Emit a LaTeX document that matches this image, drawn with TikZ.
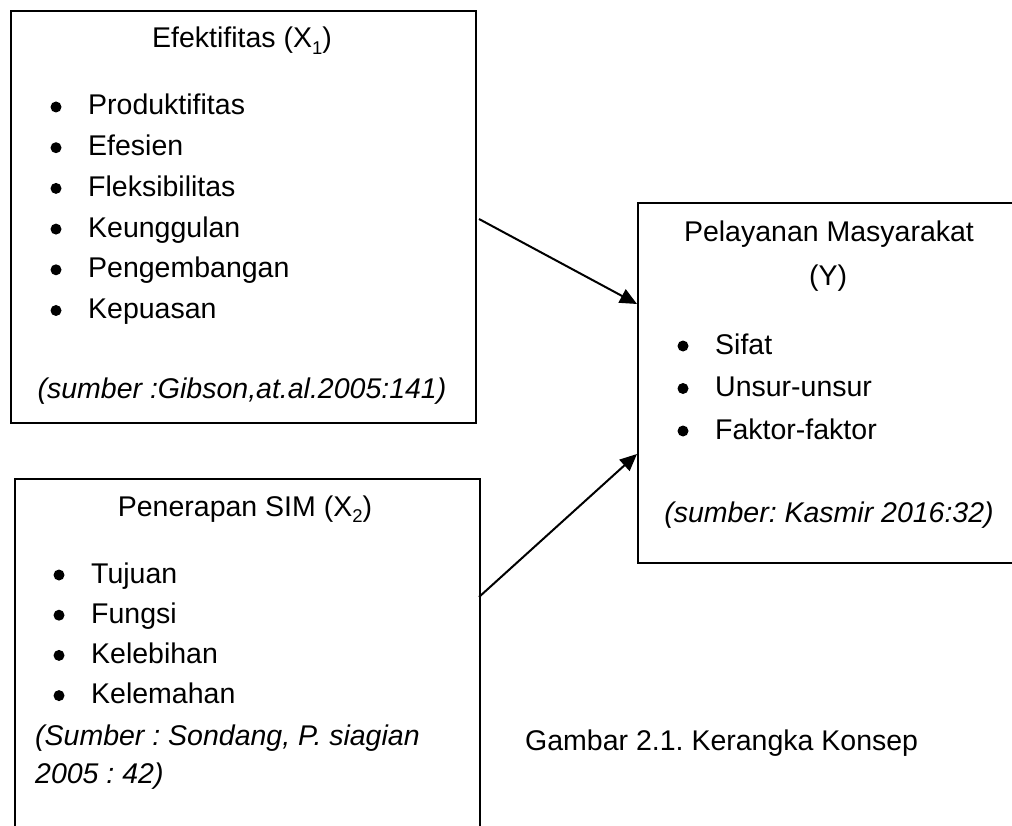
\documentclass[tikz,border=0pt]{standalone}
\usepackage{fontspec}
\setmainfont{Liberation Sans}
\usetikzlibrary{arrows.meta}
\frenchspacing
\newcommand{\subnum}[1]{\raisebox{-0.22em}{\fontsize{18.5}{18.5}\selectfont #1}}
\begin{document}
\begin{tikzpicture}[x=1pt,y=-1pt,
  box/.style={draw=black,line width=1.6pt,rectangle,inner sep=0pt,anchor=north west},
  txt/.style={inner sep=0pt,font=\fontsize{28.5}{34}\selectfont},
  itm/.style={txt,anchor=base west},
  ctr/.style={txt,anchor=base},
  dot/.style={circle,fill=black,inner sep=0pt,minimum size=11pt},
  src/.style={txt,font=\fontsize{28.5}{34}\selectfont\itshape},
  arr/.style={line width=2pt,-{Triangle[length=17pt,width=15pt]}}]
\useasboundingbox (0,0) rectangle (1012,826);
\clip (0,0) rectangle (1012,826);
\fill[white] (0,0) rectangle (1012,826);
% boxes
\node[box,minimum width=465pt,minimum height=412pt] (b1) at (10,10) {};
\node[box,minimum width=465pt,minimum height=420pt] (b2) at (14,478) {};
\node[box,minimum width=384pt,minimum height=360pt] (b3) at (637,202) {};
% box 1 texts
\node[ctr] (t1) at (242,48) {Efektifitas (X\subnum{1})};
\foreach \t [count=\i from 0] in {Produktifitas,Efesien,Fleksibilitas,Keunggulan,Pengembangan,Kepuasan}{
  \node[itm] (p\i) at (88,115+40.7*\i) {\t};
  \node[dot] (pb\i) at (56,107+40.7*\i) {};
}
\node[src,anchor=base] (s1) at (242,398) {(sumber :Gibson,at.al.2005:141)};
% box 2 texts
\node[ctr] (t2) at (245,516) {Penerapan SIM (X\subnum{2})};
\foreach \t [count=\i from 0] in {Tujuan,Fungsi,Kelebihan,Kelemahan}{
  \node[itm] (q\i) at (91,583+40.2*\i) {\t};
  \node[dot] (qb\i) at (59,575+40.2*\i) {};
}
\node[src,anchor=base west] (s2a) at (35,745) {(Sumber : Sondang, P. siagian};
\node[src,anchor=base west] (s2b) at (35,783) {2005 : 42)};
% box 3 texts
\node[ctr] (t3a) at (829,242) {Pelayanan Masyarakat};
\node[ctr] (t3b) at (828,286) {(Y)};
\foreach \t [count=\i from 0] in {Sifat,Unsur-unsur,Faktor-faktor}{
  \node[itm] (r\i) at (715,354+42.5*\i) {\t};
  \node[dot] (rb\i) at (683,346+42.5*\i) {};
}
\node[src,anchor=base] (s3) at (829,522) {(sumber: Kasmir 2016:32)};
% caption
\node[itm] (cap) at (525,750) {Gambar 2.1. Kerangka Konsep};
% arrows
\coordinate (a1) at (479,219);
\coordinate (a2) at (479,597);
\coordinate (e1) at (0,304);
\coordinate (e2) at (0,454);
\draw[arr] (a1) -- (b3.west |- e1);
\draw[arr] (a2) -- (b3.west |- e2);
\end{tikzpicture}
\end{document}
